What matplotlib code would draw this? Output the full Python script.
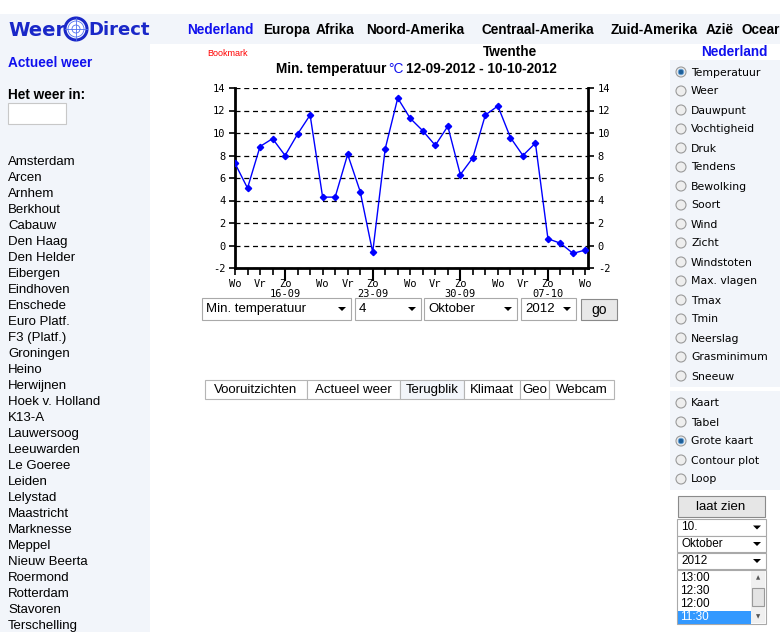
import matplotlib
matplotlib.use("Agg")
import matplotlib.pyplot as plt
from matplotlib.patches import Rectangle, Circle, Polygon

W, H = 780, 632

# data: min. temperatuur Twenthe, 12-09-2012 .. 10-10-2012
tmin = [7.3, 5.1, 8.8, 9.5, 8.0, 9.9, 11.6, 4.3, 4.3, 8.1, 4.8, -0.6, 8.6,
        13.1, 11.3, 10.2, 8.9, 10.6, 6.3, 7.8, 11.6, 12.4, 9.6, 8.0, 9.1,
        0.6, 0.2, -0.7, -0.4]
day_labels = {0: "Wo", 2: "Vr", 4: "Zo", 7: "Wo", 9: "Vr", 11: "Zo", 14: "Wo",
              16: "Vr", 18: "Zo", 21: "Wo", 23: "Vr", 25: "Zo", 28: "Wo"}
week_dates = {4: "16-09", 11: "23-09", 18: "30-09", 25: "07-10"}
y_ticks = list(range(-2, 15, 2))

nav_items = [("Nederland", 187), ("Europa", 263), ("Afrika", 316), ("Noord-Amerika", 366),
             ("Centraal-Amerika", 481), ("Zuid-Amerika", 611), ("Azië", 706), ("Ocear", 741)]
cities = ["Amsterdam", "Arcen", "Arnhem", "Berkhout", "Cabauw", "Den Haag", "Den Helder",
          "Eibergen", "Eindhoven", "Enschede", "Euro Platf.", "F3 (Platf.)", "Groningen",
          "Heino", "Herwijnen", "Hoek v. Holland", "K13-A", "Lauwersoog", "Leeuwarden",
          "Le Goeree", "Leiden", "Lelystad", "Maastricht", "Marknesse", "Meppel",
          "Nieuw Beerta", "Roermond", "Rotterdam", "Stavoren", "Terschelling"]
params = ["Temperatuur", "Weer", "Dauwpunt", "Vochtigheid", "Druk", "Tendens", "Bewolking",
          "Soort", "Wind", "Zicht", "Windstoten", "Max. vlagen", "Tmax", "Tmin", "Neerslag",
          "Grasminimum", "Sneeuw"]
views = ["Kaart", "Tabel", "Grote kaart", "Contour plot", "Loop"]
tabs = [("Vooruitzichten", 205, 307), ("Actueel weer", 307, 400), ("Terugblik", 400, 464),
        ("Klimaat", 464, 520), ("Geo", 520, 549), ("Webcam", 549, 614)]
times = ["13:00", "12:30", "12:00", "11:30"]

PANEL = "#f2f5fa"
BLUE = "#1010ee"
SANS = "Liberation Sans"

fig = plt.figure(figsize=(W / 100, H / 100), dpi=100)
page = fig.add_axes([0, 0, 1, 1])
page.set_xlim(0, W)
page.set_ylim(H, 0)
page.axis("off")


def box(x0, y0, x1, y1, fc="white", ec="#a9a9a9", lw=0.8, z=1):
    page.add_patch(Rectangle((x0, y0), x1 - x0, y1 - y0, facecolor=fc, edgecolor=ec, lw=lw, zorder=z))


def txt(x, y, s, size=9.5, **kw):
    kw.setdefault("va", "center")
    kw.setdefault("family", SANS)
    page.text(x, y, s, fontsize=size, zorder=5, **kw)


def arrow(x, y):
    page.add_patch(Polygon([(x - 4, y - 2), (x + 4, y - 2), (x, y + 2)], closed=True,
                           facecolor="black", edgecolor="none", zorder=6))


def select(x0, y0, x1, y1, label, size=9.5):
    box(x0, y0, x1, y1)
    txt(x0 + 4, (y0 + y1) / 2, label, size)
    arrow(x1 - 9, (y0 + y1) / 2)


def radio(x, y, label, on=False):
    page.add_patch(Circle((x, y), 5, facecolor="#eeeeee", edgecolor="#9a9a9a", lw=0.8, zorder=4))
    if on:
        page.add_patch(Circle((x, y), 2.8, facecolor="#1e5f99", edgecolor="#6fa8dc", lw=0.6, zorder=5))
    txt(x + 10, y + 0.5, label, 7.8, family="DejaVu Sans")


# backgrounds
box(0, 14, W, 44, fc=PANEL, ec="none", z=0)
box(0, 44, 150, H, fc=PANEL, ec="none", z=0)
box(670, 60, W, 387, fc=PANEL, ec="none", z=0)
box(670, 391, W, 490, fc=PANEL, ec="none", z=0)

# logo
logo = "#1a28c8"
txt(8, 30, "Weer", 14, weight="bold", color=logo, family="DejaVu Sans")
page.add_patch(Circle((76, 29), 11, facecolor="white", edgecolor=logo, lw=2.2, zorder=5))
for r in (4, 8):
    page.add_patch(Circle((76, 29), r, facecolor="none", edgecolor="#4f6ff0", lw=0.6, zorder=6))
page.plot([65, 87], [29, 29], color="#4f6ff0", lw=0.6, zorder=6)
page.plot([76, 76], [18, 40], color="#4f6ff0", lw=0.6, zorder=6)
txt(88, 30, "Direct", 13, weight="bold", color=logo, family="DejaVu Sans")

# navigation
for name, x in nav_items:
    txt(x, 30, name, 9.8, weight="bold", color=BLUE if name == "Nederland" else "black")

# left sidebar
txt(8, 63, "Actueel weer", 9.8, weight="bold", color=BLUE)
txt(8, 95, "Het weer in:", 9.8, weight="bold")
box(8, 103, 66, 124, ec="#c8c8c8")
for i, c in enumerate(cities):
    txt(8, 162 + i * 16, c, 9.5)

# chart titles
txt(207, 54, "Bookmark", 6.5, color="red")
txt(510, 52, "Twenthe", 9.8, weight="bold", ha="center")
txt(276, 69, "Min. temperatuur", 9.8, weight="bold")
txt(388, 69, "°C", 9.8, color=BLUE)
txt(406, 69, "12-09-2012 - 10-10-2012", 9.8, weight="bold")

# chart
ax = fig.add_axes([235 / W, 1 - 268 / H, (588 - 235) / W, (268 - 88) / H])
days = list(range(len(tmin)))
ax.plot(days, tmin, color="#0000ff", lw=1, marker="D", ms=3.2, zorder=3)
ax.set_xlim(0, 28.2)
ax.set_ylim(-2, 14)
ax.set_yticks(y_ticks)
ax.set_yticklabels([str(v) for v in y_ticks])
ax.yaxis.grid(True, color="black", lw=0.9, linestyle=(0, (4, 3)))
ax.spines["top"].set_visible(False)
for s in ("left", "right", "bottom"):
    ax.spines[s].set_linewidth(2)
ax.tick_params(axis="y", left=True, right=True, labelleft=True, labelright=True,
               length=4, width=1.2, labelsize=7.5, pad=3)
for lab in ax.get_yticklabels():
    lab.set_family("DejaVu Sans Mono")
major = sorted(week_dates)
minor = [d for d in days if d not in week_dates]
ax.set_xticks(major)
ax.set_xticklabels([day_labels[d] + "\n" + week_dates[d] for d in major],
                   family="DejaVu Sans Mono", fontsize=7.5, linespacing=1.0)
ax.set_xticks(minor, minor=True)
ax.set_xticklabels([day_labels.get(d, "") for d in minor], minor=True,
                   family="DejaVu Sans Mono", fontsize=7.5)
ax.tick_params(axis="x", which="major", length=9, width=1.5, pad=-1)
ax.tick_params(axis="x", which="minor", length=5, width=1.2, pad=3)

# controls under chart
select(202, 298, 351, 320, "Min. temperatuur")
select(355, 298, 421, 320, "4")
select(424, 298, 517, 320, "Oktober")
select(521, 298, 576, 320, "2012")
box(581, 299, 617, 320, fc="#e8e8e8", ec="#8a8a8a")
txt(599, 310, "go", 10, ha="center")

# tabs
for name, x0, x1 in tabs:
    box(x0, 380, x1, 399, fc=PANEL if name == "Terugblik" else "white", ec="#b5b5b5")
    txt((x0 + x1) / 2, 390, name, 9.5, ha="center")

# right panel
txt(768, 52, "Nederland", 9.8, weight="bold", color=BLUE, ha="right")
for i, p in enumerate(params):
    radio(681, 72 + i * 19, p, on=(i == 0))
for i, v in enumerate(views):
    radio(681, 403 + i * 19, v, on=(v == "Grote kaart"))

box(678, 496, 765, 517, fc="#e6e6e6", ec="#8a8a8a")
txt(721, 507, "laat zien", 9.5, ha="center")
select(677, 519, 766, 536, "10.", 8.5)
select(677, 536, 766, 552, "Oktober", 8.5)
select(677, 553, 766, 569, "2012", 8.5)
box(677, 570, 766, 624)
box(678, 611, 751, 624, fc="#3399ff", ec="none", z=2)
for i, t in enumerate(times):
    txt(680, 578 + i * 13, t, 8.5, color="white" if i == 3 else "black")
box(751, 571, 765, 623, fc="#f0f0f0", ec="none", z=2)
box(752, 588, 764, 606, fc="#e4e4e4", ec="#9a9a9a", z=3)
page.text(758, 578, "▲", fontsize=4, ha="center", va="center", color="#555555", zorder=6)
page.text(758, 617, "▼", fontsize=4, ha="center", va="center", color="#555555", zorder=6)

fig.savefig("out.png", dpi=100)
